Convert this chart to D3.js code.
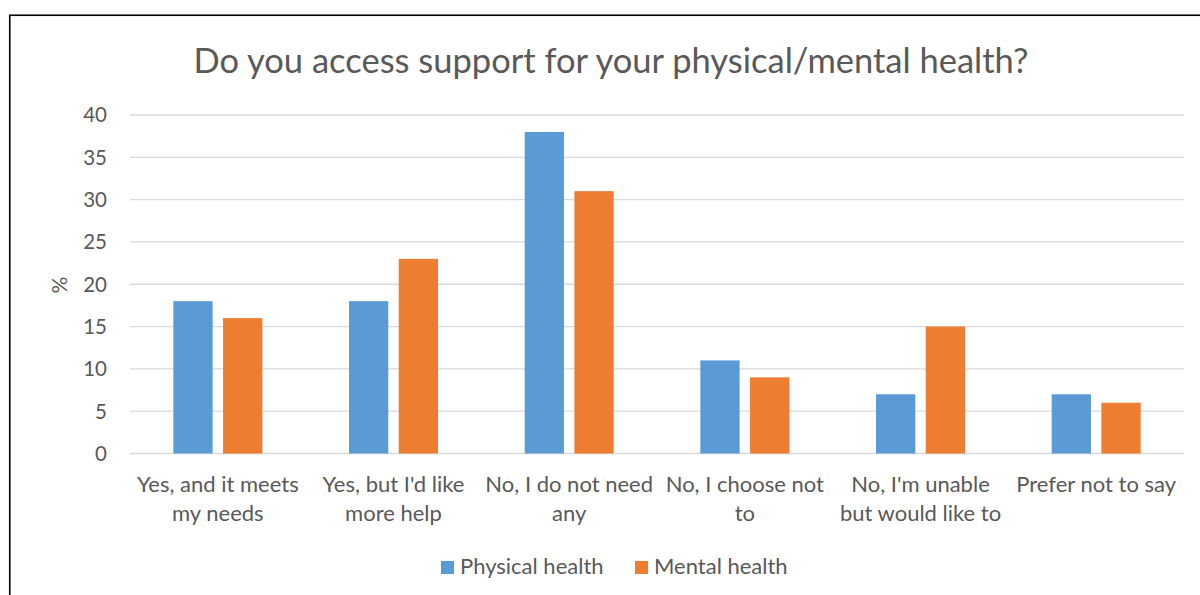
<!DOCTYPE html>
<html>
<head>
<meta charset="utf-8">
<script src="https://cdn.jsdelivr.net/npm/d3@7"></script>
<style>
  html, body { margin: 0; padding: 0; background: #fff; }
  svg { display: block; font-family: Lato, "Open Sans", sans-serif; }
</style>
</head>
<body>
<svg id="chart" width="1200" height="595"></svg>
<script>
// Survey responses, percentages by category
const categories = [
  "Yes, and it meets\nmy needs",
  "Yes, but I'd like\nmore help",
  "No, I do not need\nany",
  "No, I choose not\nto",
  "No, I'm unable\nbut would like to",
  "Prefer not to say"
];
const physicalHealth = [18, 18, 38, 11, 7, 7];
const mentalHealth = [16, 23, 31, 9, 15, 6];
const seriesNames = ["Physical health", "Mental health"];
const seriesColors = ["#5B9BD5", "#ED7D31"];
const yTicks = [0, 5, 10, 15, 20, 25, 30, 35, 40];
const title = "Do you access support for your physical/mental health?";
const yLabel = "%";

const seriesValues = [physicalHealth, mentalHealth];
const textColor = "#595959";

const svg = d3.select("#chart");

// outer chart frame
svg.append("rect")
  .attr("x", 9.75).attr("y", 15.25)
  .attr("width", 1300).attr("height", 700)
  .attr("fill", "none").attr("stroke", "#000").attr("stroke-width", 1.6);

const plot = { left: 130, right: 1184, top: 115, bottom: 453.5 };

const y = d3.scaleLinear().domain([0, 40]).range([plot.bottom, plot.top]);
const x0 = d3.scaleBand().domain(categories).range([plot.left, plot.right]).padding(0);
const groupWidth = 89;
const x1 = d3.scaleBand().domain(seriesNames)
  .range([(x0.bandwidth() - groupWidth) / 2, (x0.bandwidth() + groupWidth) / 2])
  .paddingInner(0.21).paddingOuter(0);

// gridlines
svg.append("g").selectAll("line").data(yTicks).join("line")
  .attr("x1", plot.left).attr("x2", plot.right)
  .attr("y1", d => y(d)).attr("y2", d => y(d))
  .attr("stroke", "#D9D9D9").attr("stroke-width", 1.3);

// y tick labels
svg.append("g").selectAll("text").data(yTicks).join("text")
  .attr("x", 107).attr("y", d => y(d))
  .attr("dy", "0.36em")
  .attr("text-anchor", "end")
  .attr("font-size", 20.5)
  .attr("fill", textColor)
  .text(d => d);

// bars
const groups = svg.append("g").selectAll("g").data(categories).join("g")
  .attr("transform", d => `translate(${x0(d)},0)`);
groups.selectAll("rect")
  .data((c, i) => seriesNames.map((s, j) => ({ s, j, v: seriesValues[j][i] })))
  .join("rect")
  .attr("x", d => x1(d.s))
  .attr("width", x1.bandwidth())
  .attr("y", d => y(d.v))
  .attr("height", d => y(0) - y(d.v))
  .attr("fill", d => seriesColors[d.j]);

// category labels
const catLabels = svg.append("g").selectAll("text").data(categories).join("text")
  .attr("x", d => x0(d) + x0.bandwidth() / 2)
  .attr("y", 492)
  .attr("text-anchor", "middle")
  .attr("font-size", 22)
  .attr("fill", textColor);
catLabels.selectAll("tspan").data(d => d.split("\n")).join("tspan")
  .attr("x", function () { return d3.select(this.parentNode).attr("x"); })
  .attr("dy", (d, i) => i === 0 ? 0 : 29)
  .text(d => d);

// axis title
svg.append("text")
  .attr("transform", "translate(67,285) rotate(-90)")
  .attr("text-anchor", "middle")
  .attr("font-size", 21)
  .attr("fill", textColor)
  .text(yLabel);

// chart title
svg.append("text")
  .attr("x", 611).attr("y", 73)
  .attr("text-anchor", "middle")
  .attr("font-size", 34.5)
  .attr("fill", textColor)
  .text(title);

// legend
const legendX = [441, 635];
const legend = svg.append("g").selectAll("g").data(seriesNames).join("g")
  .attr("transform", (d, i) => `translate(${legendX[i]},0)`);
legend.append("rect")
  .attr("x", 0).attr("y", 561)
  .attr("width", 13).attr("height", 13)
  .attr("fill", (d, i) => seriesColors[i]);
legend.append("text")
  .attr("x", 19).attr("y", 574)
  .attr("font-size", 22)
  .attr("fill", textColor)
  .text(d => d);
</script>
</body>
</html>
